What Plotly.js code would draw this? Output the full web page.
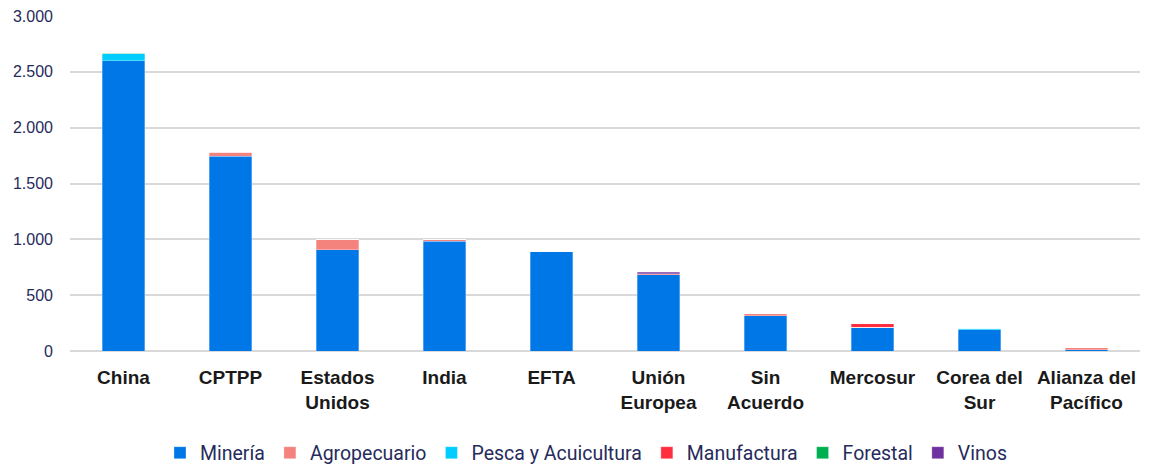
<!DOCTYPE html>
<html>
<head>
<meta charset="utf-8">
<script src="https://cdn.plot.ly/plotly-3.0.1.min.js"></script>
<style>
  html, body { margin: 0; padding: 0; background: #fff; }
  #chart { width: 1149px; height: 468px; }
</style>
</head>
<body>
<div id="chart"></div>
<script>
// bloques / acuerdos
var bloques = ['China', 'CPTPP', 'Estados<br>Unidos', 'India', 'EFTA', 'Unión<br>Europea',
               'Sin<br>Acuerdo', 'Mercosur', 'Corea del<br>Sur', 'Alianza del<br>Pacífico'];

// valores por sector
var mineria      = [2600, 1745, 905, 985, 890, 682, 315, 208, 190, 10];
var agropecuario = [0,    32,   97,  10,  3,   8,   18,  3,   0,   18];
var pesca        = [62,   0,    0,   0,   0,   0,   0,   0,   16,  0];
var manufactura  = [0,    3,    0,   0,   0,   3,   2,   34,  0,   3];
var forestal     = [6,    0,    0,   0,   0,   0,   0,   0,   0,   0];
var vinos        = [0,    0,    0,   0,   0,   14,  0,   0,   0,   0];

var colores = ['#0077E6', '#F4837D', '#00CCFF', '#FF2E3E', '#00B050', '#7030A0'];
var nombres = ['Minería', 'Agropecuario', 'Pesca y Acuicultura', 'Manufactura', 'Forestal', 'Vinos'];
var series = [mineria, agropecuario, pesca, manufactura, forestal, vinos];

var data = series.map(function (vals, i) {
    return {
        x: bloques,
        y: vals,
        type: 'bar',
        name: nombres[i],
        marker: { color: colores[i], line: { color: 'rgba(255,255,255,0.5)', width: 0.6 } },
        hoverinfo: 'x+y+name'
    };
});

var layout = {
    width: 1149,
    height: 468,
    barmode: 'stack',
    bargap: 0.6,
    separators: ',.',
    margin: { l: 70, r: 9, t: 16, b: 117, autoexpand: false },
    paper_bgcolor: '#ffffff',
    plot_bgcolor: '#ffffff',
    font: { family: 'Roboto, "Liberation Sans", sans-serif', color: '#262B5C' },
    xaxis: {
        type: 'category',
        tickfont: { family: '"Liberation Sans", Arial, sans-serif', size: 19, color: '#1a1a1a', weight: 'bold' },
        ticklabelstandoff: 13,
        showline: false,
        showgrid: false,
        automargin: false
    },
    yaxis: {
        range: [0, 3000],
        dtick: 500,
        tickformat: ',d',
        tickfont: { family: '"Liberation Sans", Arial, sans-serif', size: 16, color: '#262B5C' },
        gridcolor: '#D9D9D9',
        gridwidth: 1.5,
        zeroline: true,
        zerolinecolor: '#D9D9D9',
        zerolinewidth: 1.5,
        ticklabelstandoff: 16,
        automargin: false
    },
    legend: {
        orientation: 'h',
        xref: 'container',
        yref: 'container',
        x: 0.51,
        xanchor: 'center',
        y: 0.032,
        yanchor: 'middle',
        font: { family: 'Roboto, sans-serif', size: 19.5, color: '#262B5C' },
        itemwidth: 30,
        traceorder: 'normal'
    },
    showlegend: true
};

Plotly.newPlot('chart', data, layout, { displayModeBar: false, responsive: false });
</script>
</body>
</html>
